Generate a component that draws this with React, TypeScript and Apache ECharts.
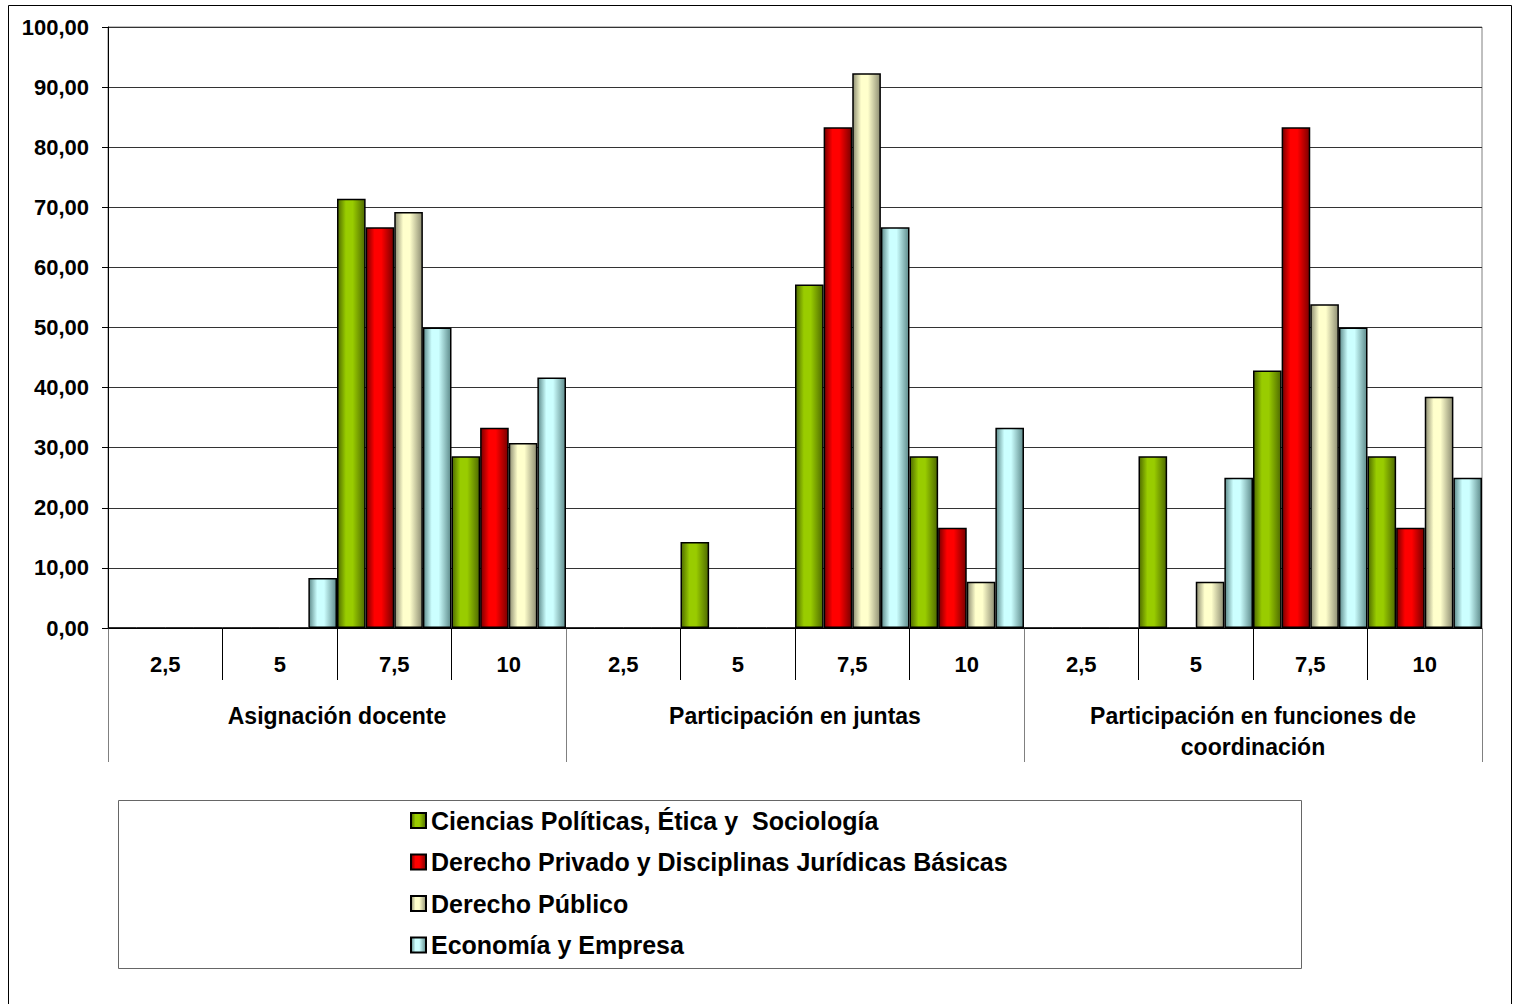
import React, { useEffect, useRef } from "react";
import * as echarts from "echarts";

const subCategories = ["2,5", "5", "7,5", "10", "2,5", "5", "7,5", "10", "2,5", "5", "7,5", "10"];
const groups = ["Asignación docente", "Participación en juntas", "Participación en funciones de\ncoordinación"];
const seriesNames = [
  "Ciencias Políticas, Ética y  Sociología",
  "Derecho Privado y Disciplinas Jurídicas Básicas",
  "Derecho Público",
  "Economía y Empresa",
];
const ciencias = [0, 0, 71.43, 28.57, 0, 14.29, 57.14, 28.57, 0, 28.57, 42.86, 28.57];
const privado = [0, 0, 66.67, 33.33, 0, 0, 83.33, 16.67, 0, 0, 83.33, 16.67];
const publico = [0, 0, 69.23, 30.77, 0, 0, 92.31, 7.69, 0, 7.69, 53.85, 38.46];
const economia = [0, 8.33, 50, 41.67, 0, 0, 66.67, 33.33, 0, 25, 50, 25];
const yTicks = { min: 0, max: 100, interval: 10 };

const palettes = [
  ["#4f6b00", "#99cc00"],
  ["#7a0000", "#ff0000"],
  ["#8f8f74", "#ffffcc"],
  ["#5f8c8c", "#ccffff"],
];

function grad(edge: string, center: string) {
  return new echarts.graphic.LinearGradient(0, 0, 1, 0, [
    { offset: 0, color: edge },
    { offset: 0.3, color: center },
    { offset: 0.55, color: center },
    { offset: 1, color: edge },
  ]);
}

const FONT = "'Liberation Sans', Arial, sans-serif";

export default function App() {
  const ref = useRef<HTMLDivElement>(null);
  useEffect(() => {
    if (!ref.current) return;
    const chart = echarts.init(ref.current, null, { renderer: "svg" });
    const data = [ciencias, privado, publico, economia];
    chart.setOption({
      animation: false,
      backgroundColor: "#ffffff",
      textStyle: { fontFamily: FONT },
      grid: {
        left: 108,
        right: 31,
        top: 27,
        bottom: 376,
        show: true,
        borderColor: "#808080",
        borderWidth: 1,
        backgroundColor: "transparent",
      },
      legend: {
        orient: "vertical",
        left: 405,
        top: 803,
        itemWidth: 15,
        itemHeight: 15,
        itemGap: 16.5,
        icon: "rect",
        textStyle: { fontSize: 25, fontWeight: "bold", color: "#000", fontFamily: FONT },
        data: seriesNames,
      },
      xAxis: [
        {
          type: "category",
          data: subCategories,
          position: "bottom",
          axisLine: { show: true, lineStyle: { color: "#000", width: 1 } },
          axisTick: { show: true, length: 52, alignWithLabel: false, lineStyle: { color: "#000" } },
          axisLabel: {
            interval: 0,
            margin: 25,
            fontSize: 22,
            fontWeight: "bold",
            color: "#000",
            fontFamily: FONT,
          },
          splitLine: { show: false },
        },
        {
          type: "category",
          data: groups,
          position: "bottom",
          axisLine: { show: false },
          axisTick: { show: true, length: 134, alignWithLabel: false, lineStyle: { color: "#808080" } },
          axisLabel: {
            interval: 0,
            margin: 72,
            fontSize: 23,
            fontWeight: "bold",
            color: "#000",
            lineHeight: 31,
            fontFamily: FONT,
          },
          splitLine: { show: false },
        },
      ],
      yAxis: {
        type: "value",
        min: yTicks.min,
        max: yTicks.max,
        interval: yTicks.interval,
        axisLine: { show: true, lineStyle: { color: "#000", width: 1 } },
        axisTick: { show: true, length: 6, lineStyle: { color: "#000" } },
        axisLabel: {
          margin: 19,
          fontSize: 22,
          fontWeight: "bold",
          color: "#000",
          fontFamily: FONT,
          formatter: (v: number) => v.toFixed(2).replace(".", ","),
        },
        splitLine: { show: true, lineStyle: { color: "#333", width: 1 } },
      },
      series: data.map((d, i) => ({
        name: seriesNames[i],
        type: "bar",
        xAxisIndex: 0,
        data: d,
        barGap: "0%",
        barCategoryGap: "0%",
        itemStyle: {
          color: grad(palettes[i][0], palettes[i][1]),
          borderColor: "#000",
          borderWidth: 1.5,
        },
      })),
      graphic: [
        {
          type: "rect",
          shape: { x: 8.5, y: 5.5, width: 1503, height: 1100 },
          style: { fill: "none", stroke: "#000", lineWidth: 1 },
          silent: true,
        },
        {
          type: "rect",
          shape: { x: 118.5, y: 800.5, width: 1183, height: 168 },
          style: { fill: "none", stroke: "#666", lineWidth: 1 },
          silent: true,
        },
      ],
    });
    return () => chart.dispose();
  }, []);
  return (
    <div
      ref={ref}
      style={{ position: "fixed", left: 0, top: 0, width: 1513, height: 1004, background: "#fff" }}
    />
  );
}
